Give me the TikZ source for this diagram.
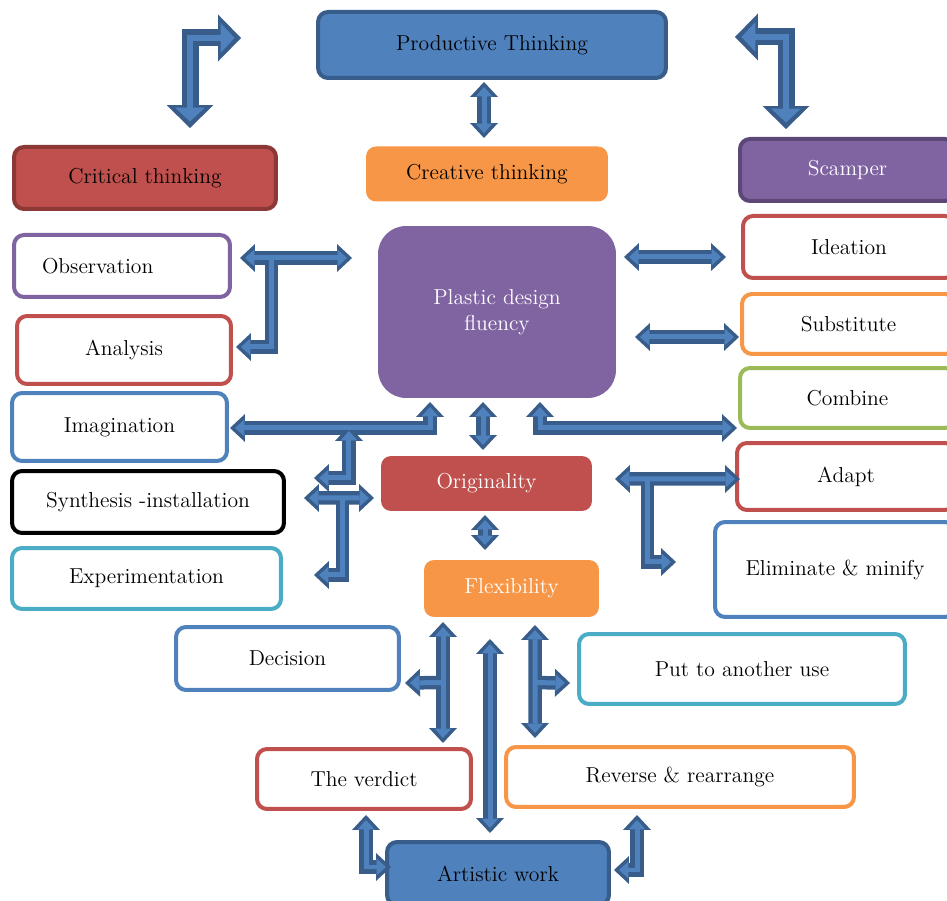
\documentclass[tikz,border=0pt]{standalone}
\usepackage{tikz}
\usetikzlibrary{arrows.meta}
\usetikzlibrary{calc}

\definecolor{bblue}{HTML}{4F81BD}
\definecolor{bdark}{HTML}{385D8A}
\definecolor{bred}{HTML}{C0504D}
\definecolor{rdark}{HTML}{8C3836}
\definecolor{borange}{HTML}{F79646}
\definecolor{bpurple}{HTML}{8064A2}
\definecolor{pdark}{HTML}{5C4776}
\definecolor{bgreen}{HTML}{9BBB59}
\definecolor{bteal}{HTML}{4BACC6}

\begin{document}
\begin{tikzpicture}[x=0.02cm,y=-0.02cm,
    size/.style 2 args={minimum width=#1cm,minimum height=#2cm},
    wbox/.style={draw,fill=white,line width=0.08cm,rounded corners=0.2cm,
        font=\fontsize{12.3}{14.8}\selectfont},
    cbox/.style={wbox,fill=#1},
    outer/.style={draw=bdark,line width=0.27cm,
        >={Triangle[width=0.56cm,length=0.3cm,line width=0pt]}},
    inner/.style={draw=bblue,line width=0.1cm,
        >={Triangle[width=0.34cm,length=0.19cm,line width=0pt]},
        shorten >=0.1cm,shorten <=0.1cm},
    bigouter/.style={draw=bdark,line width=0.34cm,
        >={Triangle[width=0.94cm,length=0.46cm,line width=0pt]}},
    biginner/.style={draw=bblue,line width=0.13cm,
        >={Triangle[width=0.6cm,length=0.28cm,line width=0pt]},
        shorten >=0.13cm,shorten <=0.13cm}
                ]
            \useasboundingbox (0,0) rectangle (947,901);
            \clip (0,0) rectangle (947,901);

            \node[cbox=bblue,draw=bdark,size={6.96}{1.32}] (prod) at (492,45) {Productive Thinking};
            \node[cbox=bred,draw=rdark,size={5.24}{1.24}] (crit) at (145,178) {Critical thinking};
            \node[cbox=borange,draw=none,size={4.84}{1.10}] (crea) at (487,174) {Creative thinking};
            \node[cbox=bpurple,draw=pdark,text=white,size={4.30}{1.24}] (scam) at (847.5,170) {Scamper};

            \node[wbox,draw=bpurple,size={4.32}{1.24},text width=3.2cm,align=left] (obs) at (122,266) {Observation};
            \node[wbox,draw=bred,size={4.28}{1.36}] (anal) at (124,350) {Analysis};
            \node[wbox,draw=bblue,size={4.30}{1.36}] (imag) at (119.5,427) {Imagination};
            \node[wbox,draw=black,size={5.44}{1.24}] (synt) at (148,502) {Synthesis -installation};
            \node[wbox,draw=bteal,size={5.38}{1.22}] (expe) at (146.5,578.5) {Experimentation};

            \node[cbox=bpurple,draw=none,text=white,rounded corners=0.56cm,size={4.76}{3.44},align=center] (plas) at (497,312) {Plastic design\\fluency};
            \node[cbox=bred,draw=none,text=white,size={4.22}{1.10}] (orig) at (486.5,483.5) {Originality};
            \node[cbox=borange,draw=none,text=white,size={3.50}{1.14}] (flex) at (511.5,588.5) {Flexibility};

            \node[wbox,draw=bred,size={4.24}{1.24}] (idea) at (849,247) {Ideation};
            \node[wbox,draw=borange,size={4.26}{1.20}] (subs) at (848.5,324) {Substitute};
            \node[wbox,draw=bgreen,size={4.30}{1.20}] (comb) at (847.5,398) {Combine};
            \node[wbox,draw=bred,size={4.36}{1.34}] (adap) at (846,476.5) {Adapt};
            \node[wbox,draw=bblue,size={4.80}{1.90}] (elim) at (835,569.5) {Eliminate \& minify};

            \node[wbox,draw=bblue,size={4.46}{1.26}] (deci) at (287.5,658.5) {Decision};
            \node[wbox,draw=bteal,size={6.52}{1.40}] (puta) at (742,669) {Put to another use};
            \node[wbox,draw=bred,size={4.28}{1.20}] (verd) at (364,779) {The verdict};
            \node[wbox,draw=borange,size={6.96}{1.20}] (reve) at (680,777) {Reverse \& rearrange};
            \node[cbox=bblue,draw=bdark,size={4.44}{1.26}] (arti) at (498,873.5) {Artistic work};

            % big bent arrows at the top
            \foreach \pass in {bigouter,biginner} {
                \draw[\pass,<->] ($(prod.west)+(-75,-7)$) -| ($(crit.north)+(45,-17)$);
                \draw[\pass,<->] ($(prod.east)+(67,-8)$) -| ($(scam.north)+(-61.5,-8)$);
            }

            % block arrows, dark outline first, light stripe second
            \foreach \pass in {outer,inner} {
                \draw[\pass,<->] ($(prod.south)+(-8,2)$) -- ($(crea.north)+(-3,-6.5)$);

                \draw[\pass,<->] ($(obs.east)+(8,-8)$) -- coordinate[pos=.28] (obsT) ($(plas.west)+(-24,-54)$);
                \draw[\pass,->,shorten <=0pt] (obsT) |- ($(anal.east)+(3,-3)$);

                \draw[\pass,<->] ($(plas.east)+(6,-55)$) -- ($(idea.west)+(-15,10)$);
                \draw[\pass,<->] ($(plas.east)+(17,25)$) -- ($(subs.west)+(-1,13)$);
                \draw[\pass,<->] ($(plas.south)+(43,2)$) |- ($(comb.west)+(-1,30)$);

                \draw[\pass,<->] ($(imag.east)+(1,1)$) -| ($(plas.south)+(-67,2)$);
                \draw[\pass,<->] ($(imag.east)+(120,-1)$) |- ($(synt.east)+(28,-24)$);

                \draw[\pass,<->] ($(synt.east)+(18,-4)$) -- coordinate[pos=.55] (syntT) ($(orig.west)+(-5,14.5)$);
                \draw[\pass,->,shorten <=0pt] (syntT) |- ($(expe.east)+(31,-3.5)$);

                \draw[\pass,<->] ($(plas.south)+(-14,2)$) -- ($(orig.north)+(-3.5,-4)$);
                \draw[\pass,<->] ($(orig.south)+(-1.5,2)$) -- ($(flex.north)+(-26.5,-8)$);

                \draw[\pass,<->] ($(orig.east)+(21,-4.5)$) -- coordinate[pos=.26] (adapT) ($(adap.west)+(5,2.5)$);
                \draw[\pass,->,shorten <=0pt] (adapT) |- ($(elim.west)+(-37,-7.5)$);

                \draw[\pass,<->] ($(flex.south)+(-68.5,3)$) -- coordinate[pos=.5] (deciT) ($(verd.north)+(79,-4)$);
                \draw[\pass,->,shorten <=0pt] (deciT) -- ($(deci.east)+(4,24.5)$);
                \draw[\pass,<->] ($(flex.south)+(-21.5,20)$) -- ($(arti.north)+(-8,-7)$);
                \draw[\pass,<->] ($(flex.south)+(23.5,6)$) -- coordinate[pos=.51] (putaT) ($(reve.north)+(-145,-7)$);
                \draw[\pass,->,shorten <=0pt] (putaT) -- ($(puta.west)+(-7,14)$);

                \draw[\pass,<->] ($(verd.south)+(2,4)$) |- ($(arti.west)+(6,-6.5)$);
                \draw[\pass,<->] ($(reve.south)+(-43,6)$) |- ($(arti.east)+(3,-3.5)$);
            }

            \end{tikzpicture}
\end{document}
